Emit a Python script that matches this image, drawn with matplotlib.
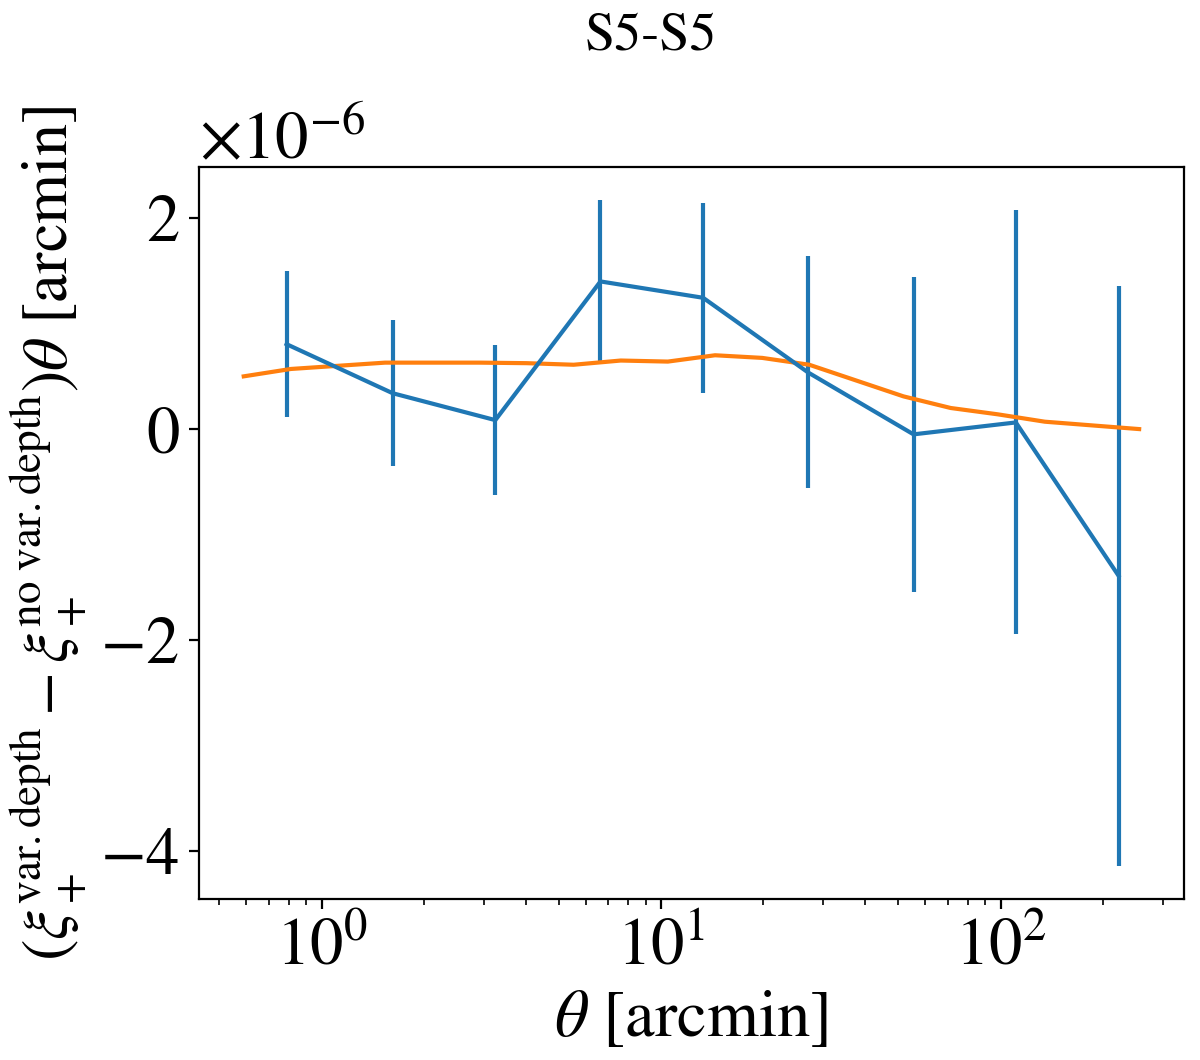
import matplotlib
matplotlib.use("Agg")
import matplotlib.pyplot as plt

plt.rcParams['font.family'] = ['STIXGeneral', 'Liberation Serif', 'DejaVu Serif']
plt.rcParams['mathtext.fontset'] = 'stix'
plt.rcParams['axes.formatter.use_mathtext'] = True

# binned measurement (blue, with error bars)
theta_bins = [0.789, 1.62, 3.25, 6.63, 13.3, 27.1, 55.4, 110.9, 222.5]
diff_bins = [0.805e-6, 0.34e-6, 0.085e-6, 1.40e-6, 1.245e-6, 0.537e-6, -0.05e-6, 0.063e-6, -1.39e-6]
diff_err = [0.69e-6, 0.69e-6, 0.71e-6, 0.77e-6, 0.90e-6, 1.10e-6, 1.49e-6, 2.01e-6, 2.75e-6]

# model (orange)
theta_model = [0.590, 0.812, 1.118, 1.539, 2.120, 2.917, 4.015, 5.527, 7.608, 10.47,
               14.42, 19.85, 27.32, 37.61, 51.78, 71.27, 98.08, 135.0, 185.9, 255.9]
diff_model = [0.50e-6, 0.57e-6, 0.60e-6, 0.63e-6, 0.63e-6, 0.63e-6, 0.625e-6, 0.61e-6,
              0.65e-6, 0.64e-6, 0.70e-6, 0.675e-6, 0.61e-6, 0.46e-6, 0.31e-6, 0.20e-6,
              0.14e-6, 0.07e-6, 0.035e-6, 0.0]

title = "S5-S5"

fig = plt.figure(figsize=(6, 5.3), dpi=200)
ax = fig.add_axes([0.1658, 0.1519, 0.8208, 0.6906])

ax.errorbar(theta_bins, diff_bins, yerr=diff_err)
ax.plot(theta_model, diff_model)

ax.set_xscale('log')
ax.tick_params(labelsize=24)
ax.yaxis.get_offset_text().set_fontsize(24)

ax.set_xlabel(r'$\theta$ [arcmin]', fontsize=24)
ax.set_ylabel(r'$(\xi_+^{\rm var.depth} - \xi_+^{\rm no\ var.depth})\theta$ [arcmin]', fontsize=23.2)

fig.text(0.5425, 0.965, title, ha='center', va='center', fontsize=19.5)

fig.savefig("out.png", dpi=200)
